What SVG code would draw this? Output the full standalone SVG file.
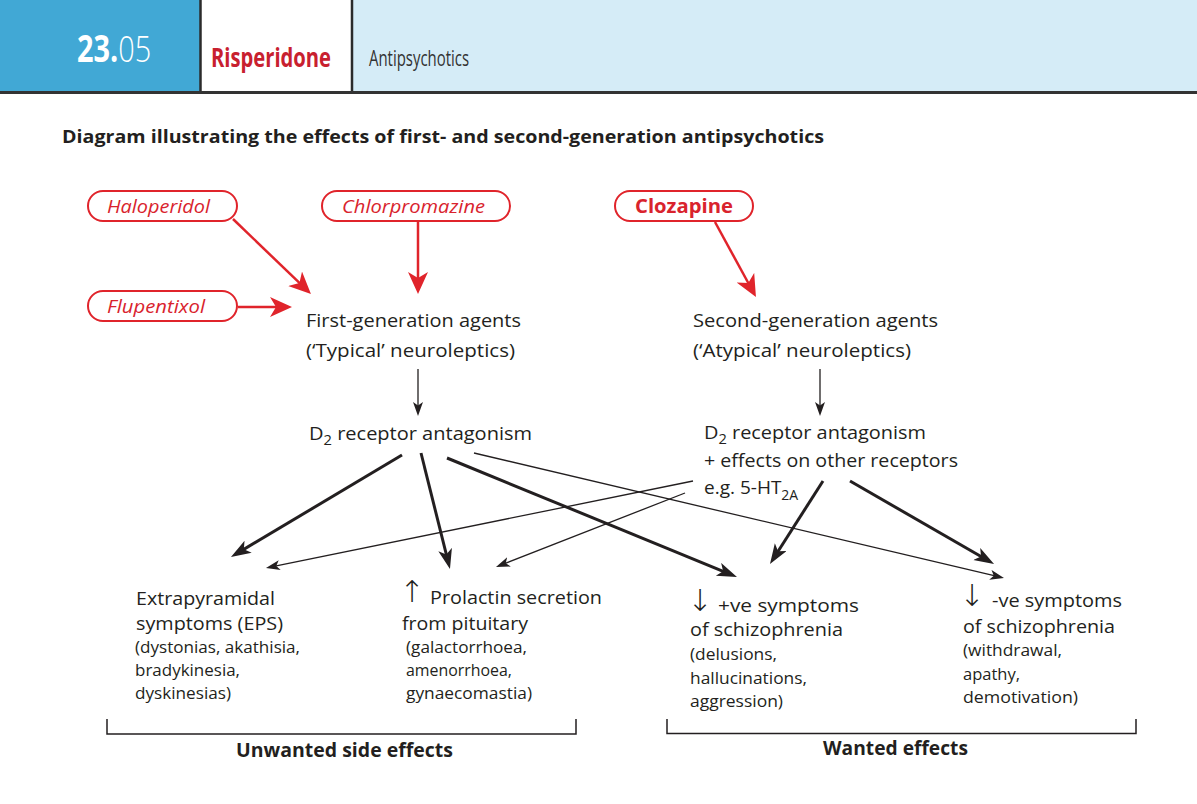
<svg xmlns="http://www.w3.org/2000/svg" width="1197" height="804" viewBox="0 0 1197 804">
<style>
.t{font-family:"Open Sans","Noto Sans","Liberation Sans",sans-serif;fill:#231f20;}
.m{font-size:19px;}
.s{font-size:16.5px;}
.b{font-weight:bold;}
.red{fill:#d9232d;}
.pill{fill:#fff;stroke:#e0242b;stroke-width:2;}
.ra{stroke:#e0242b;stroke-width:2.5;fill:none;}
.thick{stroke:#231f20;stroke-width:3;fill:none;}
.thin{stroke:#231f20;stroke-width:1.3;fill:none;}
.arr{font-family:"DejaVu Sans",sans-serif;font-weight:200;font-size:30px;fill:#231f20;}
.br{stroke:#231f20;stroke-width:1.5;fill:none;}
</style>
<defs>
<marker id="mr" markerUnits="userSpaceOnUse" markerWidth="24" markerHeight="22" refX="10" refY="10" orient="auto"><path d="M0,0 L22,10 L0,20 L6,10 Z" fill="#e0242b"/></marker>
<marker id="mk" markerUnits="userSpaceOnUse" markerWidth="22" markerHeight="16" refX="9" refY="7" orient="auto"><path d="M0,0 L20,7 L0,14 L5,7 Z" fill="#231f20"/></marker>
<marker id="mt" markerUnits="userSpaceOnUse" markerWidth="16" markerHeight="12" refX="6" refY="5" orient="auto"><path d="M0,0 L14,5 L0,10 L3.5,5 Z" fill="#231f20"/></marker>
</defs>
<rect width="1197" height="804" fill="#fff"/>
<g id="header">
<rect x="0" y="0" width="200" height="92" fill="#41a8d5"/>
<rect x="200" y="0" width="152" height="92" fill="#fff"/>
<rect x="352" y="0" width="845" height="92" fill="#d5ecf7"/>
<line x1="200.5" y1="0" x2="200.5" y2="92" stroke="#2b2b2b" stroke-width="2.5"/>
<line x1="352" y1="0" x2="352" y2="92" stroke="#2b2b2b" stroke-width="2.5"/>
<line x1="0" y1="92.5" x2="1197" y2="92.5" stroke="#333" stroke-width="3"/>
<text transform="translate(77,62) scale(0.78,1)" x="0" y="0" class="t" style="font-size:37px;fill:#fff"><tspan font-weight="bold">23.</tspan><tspan font-weight="300">05</tspan></text>
<text x="211" y="67" class="t b" style="font-size:27px;fill:#c8202f" textLength="120" lengthAdjust="spacingAndGlyphs">Risperidone</text>
<text x="369" y="66" class="t" style="font-size:21px;fill:#333" textLength="100" lengthAdjust="spacingAndGlyphs">Antipsychotics</text>
</g>
<text id="title" x="62" y="143" class="t b" style="font-size:18px" textLength="762" lengthAdjust="spacingAndGlyphs">Diagram illustrating the effects of first- and second-generation antipsychotics</text>
<g id="haloperidol"><rect x="88" y="191" width="149" height="30" rx="15" class="pill"/><text x="107" y="213" class="t m red" font-style="italic" textLength="103" lengthAdjust="spacingAndGlyphs">Haloperidol</text></g>
<g id="chlorpromazine"><rect x="322" y="191" width="188" height="30" rx="15" class="pill"/><text x="342" y="213" class="t m red" font-style="italic" textLength="143" lengthAdjust="spacingAndGlyphs">Chlorpromazine</text></g>
<g id="flupentixol"><rect x="88" y="291" width="149" height="30" rx="15" class="pill"/><text x="107" y="313" class="t m red" font-style="italic" textLength="98" lengthAdjust="spacingAndGlyphs">Flupentixol</text></g>
<g id="clozapine"><rect x="615" y="191" width="138" height="30" rx="15" class="pill"/><text x="635" y="213" class="t m b red" textLength="98" lengthAdjust="spacingAndGlyphs">Clozapine</text></g>
<g id="first-gen">
<text x="306" y="327" class="t m" textLength="215" lengthAdjust="spacingAndGlyphs">First-generation agents</text>
<text x="306" y="357" class="t m" textLength="209" lengthAdjust="spacingAndGlyphs">(‘Typical’ neuroleptics)</text>
</g>
<g id="second-gen">
<text x="693" y="327" class="t m" textLength="245" lengthAdjust="spacingAndGlyphs">Second-generation agents</text>
<text x="693" y="357" class="t m" textLength="218" lengthAdjust="spacingAndGlyphs">(‘Atypical’ neuroleptics)</text>
</g>
<g id="d2-left">
<text x="309" y="440" class="t m" textLength="223" lengthAdjust="spacingAndGlyphs">D<tspan dy="5" font-size="14">2</tspan><tspan dy="-5"> receptor antagonism</tspan></text>
</g>
<g id="d2-right">
<text x="704" y="439" class="t m" textLength="222" lengthAdjust="spacingAndGlyphs">D<tspan dy="5" font-size="14">2</tspan><tspan dy="-5"> receptor antagonism</tspan></text>
<text x="704" y="467" class="t m" textLength="254" lengthAdjust="spacingAndGlyphs">+ effects on other receptors</text>
<text x="704" y="494" class="t m">e.g. 5-HT<tspan dy="6" font-size="14">2A</tspan></text>
</g>
<g id="eps">
<text x="136" y="605" class="t m" textLength="139" lengthAdjust="spacingAndGlyphs">Extrapyramidal</text>
<text x="136" y="630" class="t m" textLength="147" lengthAdjust="spacingAndGlyphs">symptoms (EPS)</text>
<text x="135" y="653" class="t s" textLength="165" lengthAdjust="spacingAndGlyphs">(dystonias, akathisia,</text>
<text x="135" y="676" class="t s" textLength="105" lengthAdjust="spacingAndGlyphs">bradykinesia,</text>
<text x="135" y="699" class="t s" textLength="96" lengthAdjust="spacingAndGlyphs">dyskinesias)</text>
</g>
<g id="prolactin">
<text x="412" y="602" class="arr" text-anchor="middle">↑</text>
<text x="430" y="604" class="t m" textLength="172" lengthAdjust="spacingAndGlyphs">Prolactin secretion</text>
<text x="402" y="630" class="t m" textLength="126" lengthAdjust="spacingAndGlyphs">from pituitary</text>
<text x="406" y="653" class="t s" textLength="121" lengthAdjust="spacingAndGlyphs">(galactorrhoea,</text>
<text x="406" y="676" class="t s" textLength="106" lengthAdjust="spacingAndGlyphs">amenorrhoea,</text>
<text x="406" y="699" class="t s" textLength="126" lengthAdjust="spacingAndGlyphs">gynaecomastia)</text>
</g>
<g id="positive">
<text x="700" y="611" class="arr" text-anchor="middle">↓</text>
<text x="718" y="612" class="t m" textLength="141" lengthAdjust="spacingAndGlyphs">+ve  symptoms</text>
<text x="690" y="636" class="t m" textLength="153" lengthAdjust="spacingAndGlyphs">of schizophrenia</text>
<text x="690" y="660" class="t s" textLength="87" lengthAdjust="spacingAndGlyphs">(delusions,</text>
<text x="690" y="684" class="t s" textLength="117" lengthAdjust="spacingAndGlyphs">hallucinations,</text>
<text x="690" y="707" class="t s" textLength="93" lengthAdjust="spacingAndGlyphs">aggression)</text>
</g>
<g id="negative">
<text x="972" y="606" class="arr" text-anchor="middle">↓</text>
<text x="992" y="607" class="t m" textLength="130" lengthAdjust="spacingAndGlyphs">-ve symptoms</text>
<text x="963" y="633" class="t m" textLength="152" lengthAdjust="spacingAndGlyphs">of schizophrenia</text>
<text x="963" y="656" class="t s" textLength="99" lengthAdjust="spacingAndGlyphs">(withdrawal,</text>
<text x="963" y="680" class="t s" textLength="57" lengthAdjust="spacingAndGlyphs">apathy,</text>
<text x="963" y="703" class="t s" textLength="115" lengthAdjust="spacingAndGlyphs">demotivation)</text>
</g>
<g id="unwanted">
<path d="M107,719 V734 H576 V719" class="br"/>
<text x="236" y="757" class="t m b" textLength="217" lengthAdjust="spacingAndGlyphs">Unwanted side effects</text>
</g>
<g id="wanted">
<path d="M667,719 V733.5 H1136 V719" class="br"/>
<text x="823" y="755" class="t m b" textLength="145" lengthAdjust="spacingAndGlyphs">Wanted effects</text>
</g>
<g id="connectors">
<line x1="233" y1="219" x2="302.3" y2="285.7" class="ra" marker-end="url(#mr)"/>
<line x1="238" y1="307" x2="280" y2="307" class="ra" marker-end="url(#mr)"/>
<line x1="418" y1="222" x2="418" y2="282" class="ra" marker-end="url(#mr)"/>
<line x1="715" y1="222" x2="750.2" y2="286.5" class="ra" marker-end="url(#mr)"/>
<line x1="418" y1="369" x2="418" y2="408" class="thin" marker-end="url(#mt)"/>
<line x1="820" y1="369" x2="820" y2="408" class="thin" marker-end="url(#mt)"/>
<line x1="402" y1="455" x2="240.4" y2="551.4" class="thick" marker-end="url(#mk)"/>
<line x1="421" y1="453" x2="447.3" y2="558.3" class="thick" marker-end="url(#mk)"/>
<line x1="447" y1="458" x2="726.8" y2="572.8" class="thick" marker-end="url(#mk)"/>
<line x1="474" y1="453" x2="996.2" y2="576.2" class="thin" marker-end="url(#mt)"/>
<line x1="693" y1="481" x2="273.8" y2="566.4" class="thin" marker-end="url(#mt)"/>
<line x1="685" y1="493" x2="503.4" y2="564.1" class="thin" marker-end="url(#mt)"/>
<line x1="823" y1="481" x2="775.9" y2="554.7" class="thick" marker-end="url(#mk)"/>
<line x1="850" y1="481" x2="984.5" y2="558.5" class="thick" marker-end="url(#mk)"/>
</g>
</svg>
